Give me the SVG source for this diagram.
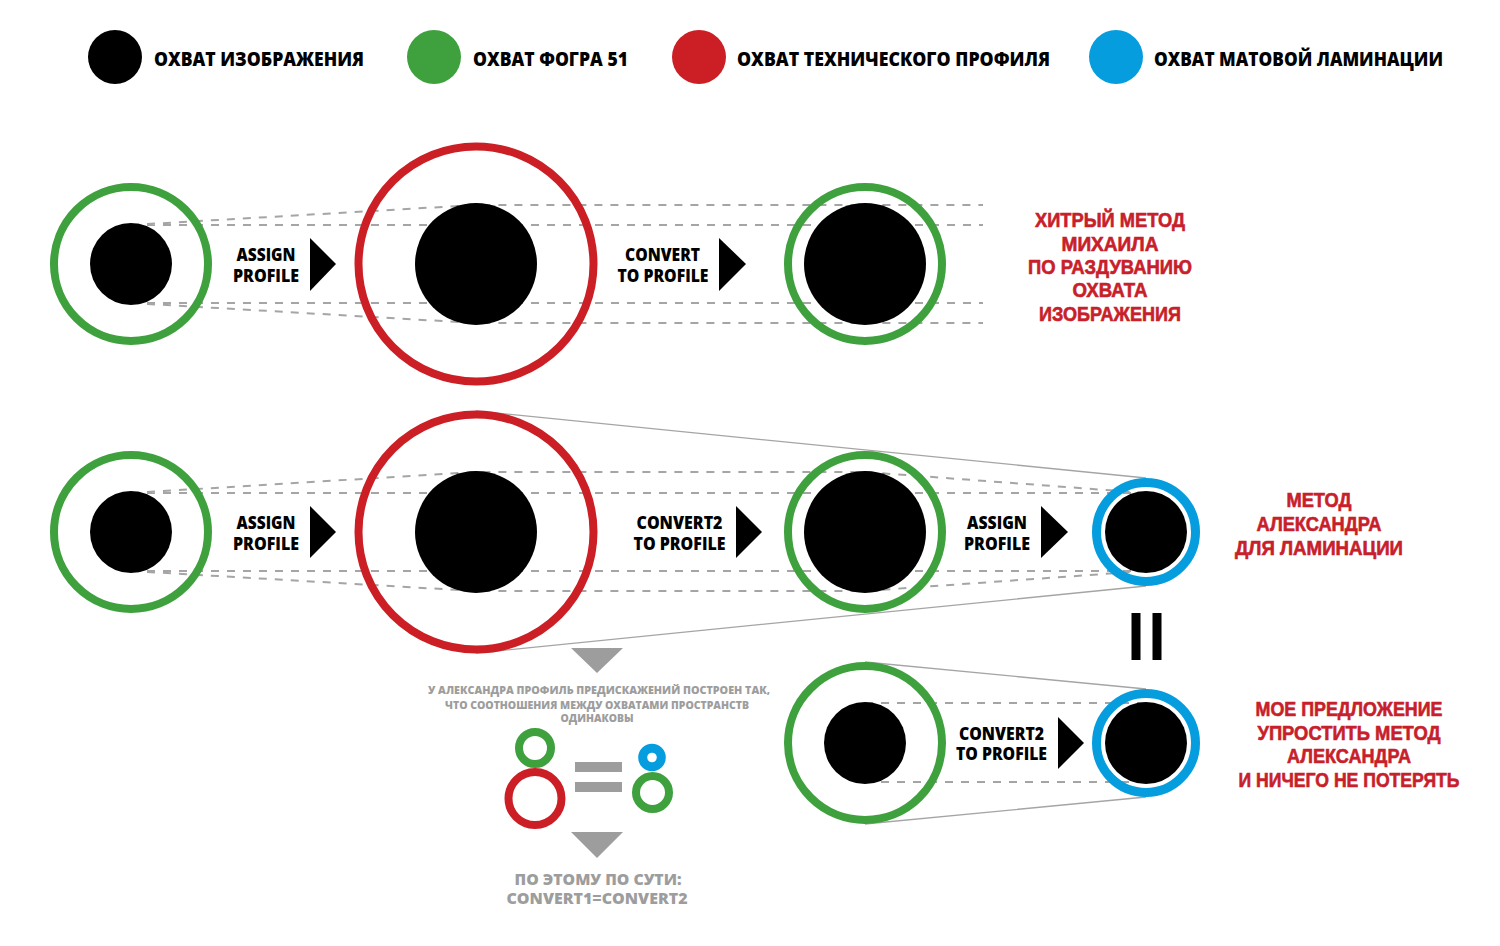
<svg xmlns="http://www.w3.org/2000/svg" width="1500" height="946" viewBox="0 0 1500 946">
<style>
.ring{fill:none}
.g{stroke:#3fa13e;stroke-width:8}
.r{stroke:#cb1e25;stroke-width:8}
.b{stroke:#069ddf;stroke-width:9}
.core{fill:#000}
.dash{stroke:#a5a5a5;stroke-width:2;stroke-dasharray:8 8;fill:none}
.solid{stroke:#a5a5a5;stroke-width:1.3;fill:none}
.arrow{fill:#000}
.gtri{fill:#9d9d9d}
text{font-family:"Open Sans","Liberation Sans",sans-serif;font-weight:800}
.lbl{font-size:17px;text-anchor:middle;fill:#000}
.red{font-family:"Liberation Sans","Open Sans",sans-serif;font-weight:700;font-size:20px;text-anchor:middle;fill:#c8202a;stroke:#c8202a;stroke-width:0.6}
.leg{font-size:20px;fill:#000}
.note{font-size:11px;text-anchor:middle;fill:#9d9d9d}
.note2{font-size:16px;text-anchor:middle;fill:#9d9d9d}
</style>
<rect width="1500" height="946" fill="#fff"/>

<g id="legend">
  <circle cx="115" cy="57" r="27" fill="#000"/>
  <text class="leg" x="154" y="66" textLength="210" lengthAdjust="spacingAndGlyphs">ОХВАТ ИЗОБРАЖЕНИЯ</text>
  <circle cx="434" cy="57" r="27" fill="#3fa13e"/>
  <text class="leg" x="473" y="66" textLength="155" lengthAdjust="spacingAndGlyphs">ОХВАТ ФОГРА 51</text>
  <circle cx="699" cy="57" r="27" fill="#cb1e25"/>
  <text class="leg" x="737" y="66" textLength="313" lengthAdjust="spacingAndGlyphs">ОХВАТ ТЕХНИЧЕСКОГО ПРОФИЛЯ</text>
  <circle cx="1116" cy="57" r="27" fill="#069ddf"/>
  <text class="leg" x="1154" y="66" textLength="289" lengthAdjust="spacingAndGlyphs">ОХВАТ МАТОВОЙ ЛАМИНАЦИИ</text>
</g>

<g id="connectors">
  <path class="dash" d="M131 225 H983 M131 303 H983 M131 225 L476 205 H983 M131 303 L476 323 H983"/>
  <path class="dash" d="M131 493 H1146 M131 571 H1146 M131 493 L476 472 H865 L1146 493 M131 571 L476 591 H865 L1146 571"/>
  <path class="solid" d="M476 411 L1146 478 M476 653 L1146 586"/>
  <path class="dash" d="M865 703 H1146 M865 782 H1146"/>
  <path class="solid" d="M865 662 L1146 689 M865 824 L1146 797"/>
  <polygon class="arrow" points="310,238 336,264 310,291"/>
  <polygon class="arrow" points="719,238 746,264 719,291"/>
  <polygon class="arrow" points="310,506 336,532 310,558"/>
  <polygon class="arrow" points="736,506 762,532 736,558"/>
  <polygon class="arrow" points="1041,506 1068,532 1041,558"/>
  <polygon class="arrow" points="1058,717 1084,743 1058,769"/>
  <rect x="1131.5" y="613" width="9" height="47" fill="#000"/>
  <rect x="1152.5" y="613" width="9" height="47" fill="#000"/>
</g>

<g id="row1-image-fogra"><circle class="ring g" cx="131" cy="264" r="77"/><circle class="core" cx="131" cy="264" r="41"/></g>
<g id="row1-tech"><circle class="ring r" cx="476" cy="264" r="117.5"/><circle class="core" cx="476" cy="264" r="61"/></g>
<g id="row1-result"><circle class="ring g" cx="865" cy="264" r="77"/><circle class="core" cx="865" cy="264" r="61"/></g>

<g id="row2-image-fogra"><circle class="ring g" cx="131" cy="532" r="77"/><circle class="core" cx="131" cy="532" r="41"/></g>
<g id="row2-tech"><circle class="ring r" cx="476" cy="532" r="117.5"/><circle class="core" cx="476" cy="532" r="61"/></g>
<g id="row2-fogra"><circle class="ring g" cx="865" cy="532" r="77"/><circle class="core" cx="865" cy="532" r="61"/></g>
<g id="row2-lamination"><circle class="ring b" cx="1146" cy="532" r="49.5"/><circle class="core" cx="1146" cy="532" r="41"/></g>

<g id="row3-fogra"><circle class="ring g" cx="865" cy="743" r="77"/><circle class="core" cx="865" cy="743" r="41"/></g>
<g id="row3-lamination"><circle class="ring b" cx="1146" cy="743" r="49.5"/><circle class="core" cx="1146" cy="743" r="41"/></g>

<g id="step-labels">
  <text class="lbl" x="266" y="261" textLength="59" lengthAdjust="spacingAndGlyphs">ASSIGN</text>
  <text class="lbl" x="266" y="282" textLength="66" lengthAdjust="spacingAndGlyphs">PROFILE</text>
  <text class="lbl" x="662.5" y="261" textLength="75" lengthAdjust="spacingAndGlyphs">CONVERT</text>
  <text class="lbl" x="663" y="282" textLength="91" lengthAdjust="spacingAndGlyphs">TO PROFILE</text>

  <text class="lbl" x="266" y="529" textLength="59" lengthAdjust="spacingAndGlyphs">ASSIGN</text>
  <text class="lbl" x="266" y="550" textLength="66" lengthAdjust="spacingAndGlyphs">PROFILE</text>
  <text class="lbl" x="679.5" y="529" textLength="86" lengthAdjust="spacingAndGlyphs">CONVERT2</text>
  <text class="lbl" x="679.5" y="550" textLength="92" lengthAdjust="spacingAndGlyphs">TO PROFILE</text>
  <text class="lbl" x="997" y="529" textLength="60" lengthAdjust="spacingAndGlyphs">ASSIGN</text>
  <text class="lbl" x="997" y="550" textLength="66" lengthAdjust="spacingAndGlyphs">PROFILE</text>

  <text class="lbl" x="1001.5" y="740" textLength="85" lengthAdjust="spacingAndGlyphs">CONVERT2</text>
  <text class="lbl" x="1001.5" y="760" textLength="91" lengthAdjust="spacingAndGlyphs">TO PROFILE</text>
</g>

<g id="note-mikhail">
  <text class="red" x="1110" y="227" textLength="150" lengthAdjust="spacingAndGlyphs">ХИТРЫЙ МЕТОД</text>
  <text class="red" x="1110" y="251" textLength="97" lengthAdjust="spacingAndGlyphs">МИХАИЛА</text>
  <text class="red" x="1110" y="274" textLength="164" lengthAdjust="spacingAndGlyphs">ПО РАЗДУВАНИЮ</text>
  <text class="red" x="1110" y="297" textLength="75" lengthAdjust="spacingAndGlyphs">ОХВАТА</text>
  <text class="red" x="1110" y="321" textLength="142" lengthAdjust="spacingAndGlyphs">ИЗОБРАЖЕНИЯ</text>
</g>

<g id="note-alexander">
  <text class="red" x="1319" y="507" textLength="65" lengthAdjust="spacingAndGlyphs">МЕТОД</text>
  <text class="red" x="1319" y="531" textLength="125" lengthAdjust="spacingAndGlyphs">АЛЕКСАНДРА</text>
  <text class="red" x="1319" y="554.5" textLength="168" lengthAdjust="spacingAndGlyphs">ДЛЯ ЛАМИНАЦИИ</text>
</g>

<g id="note-proposal">
  <text class="red" x="1349" y="716" textLength="187" lengthAdjust="spacingAndGlyphs">МОЕ ПРЕДЛОЖЕНИЕ</text>
  <text class="red" x="1349" y="739.5" textLength="183" lengthAdjust="spacingAndGlyphs">УПРОСТИТЬ МЕТОД</text>
  <text class="red" x="1349" y="763" textLength="124" lengthAdjust="spacingAndGlyphs">АЛЕКСАНДРА</text>
  <text class="red" x="1349" y="786.5" textLength="221" lengthAdjust="spacingAndGlyphs">И НИЧЕГО НЕ ПОТЕРЯТЬ</text>
</g>

<g id="explanation">
  <polygon class="gtri" points="571,648 623,648 597,673"/>
  <text class="note" x="599" y="694" textLength="342" lengthAdjust="spacingAndGlyphs">У АЛЕКСАНДРА ПРОФИЛЬ ПРЕДИСКАЖЕНИЙ ПОСТРОЕН ТАК,</text>
  <text class="note" x="597" y="708.5" textLength="304" lengthAdjust="spacingAndGlyphs">ЧТО СООТНОШЕНИЯ МЕЖДУ ОХВАТАМИ ПРОСТРАНСТВ</text>
  <text class="note" x="597" y="722" textLength="73" lengthAdjust="spacingAndGlyphs">ОДИНАКОВЫ</text>
  <circle class="ring" cx="535" cy="748" r="16" stroke="#3fa13e" stroke-width="8"/>
  <circle class="ring" cx="535" cy="798.5" r="26.5" stroke="#cb1e25" stroke-width="8"/>
  <rect x="575" y="762" width="47" height="10" fill="#9d9d9d"/>
  <rect x="575" y="782" width="47" height="10" fill="#9d9d9d"/>
  <circle class="ring" cx="652" cy="757.5" r="9.3" stroke="#069ddf" stroke-width="9"/>
  <circle class="ring" cx="652.5" cy="792.5" r="16.5" stroke="#3fa13e" stroke-width="8"/>
  <polygon class="gtri" points="571,832 623,832 597,858"/>
  <text class="note2" x="598" y="885" textLength="167" lengthAdjust="spacingAndGlyphs">ПО ЭТОМУ ПО СУТИ:</text>
  <text class="note2" x="597" y="904" textLength="181" lengthAdjust="spacingAndGlyphs">CONVERT1=CONVERT2</text>
</g>
</svg>
